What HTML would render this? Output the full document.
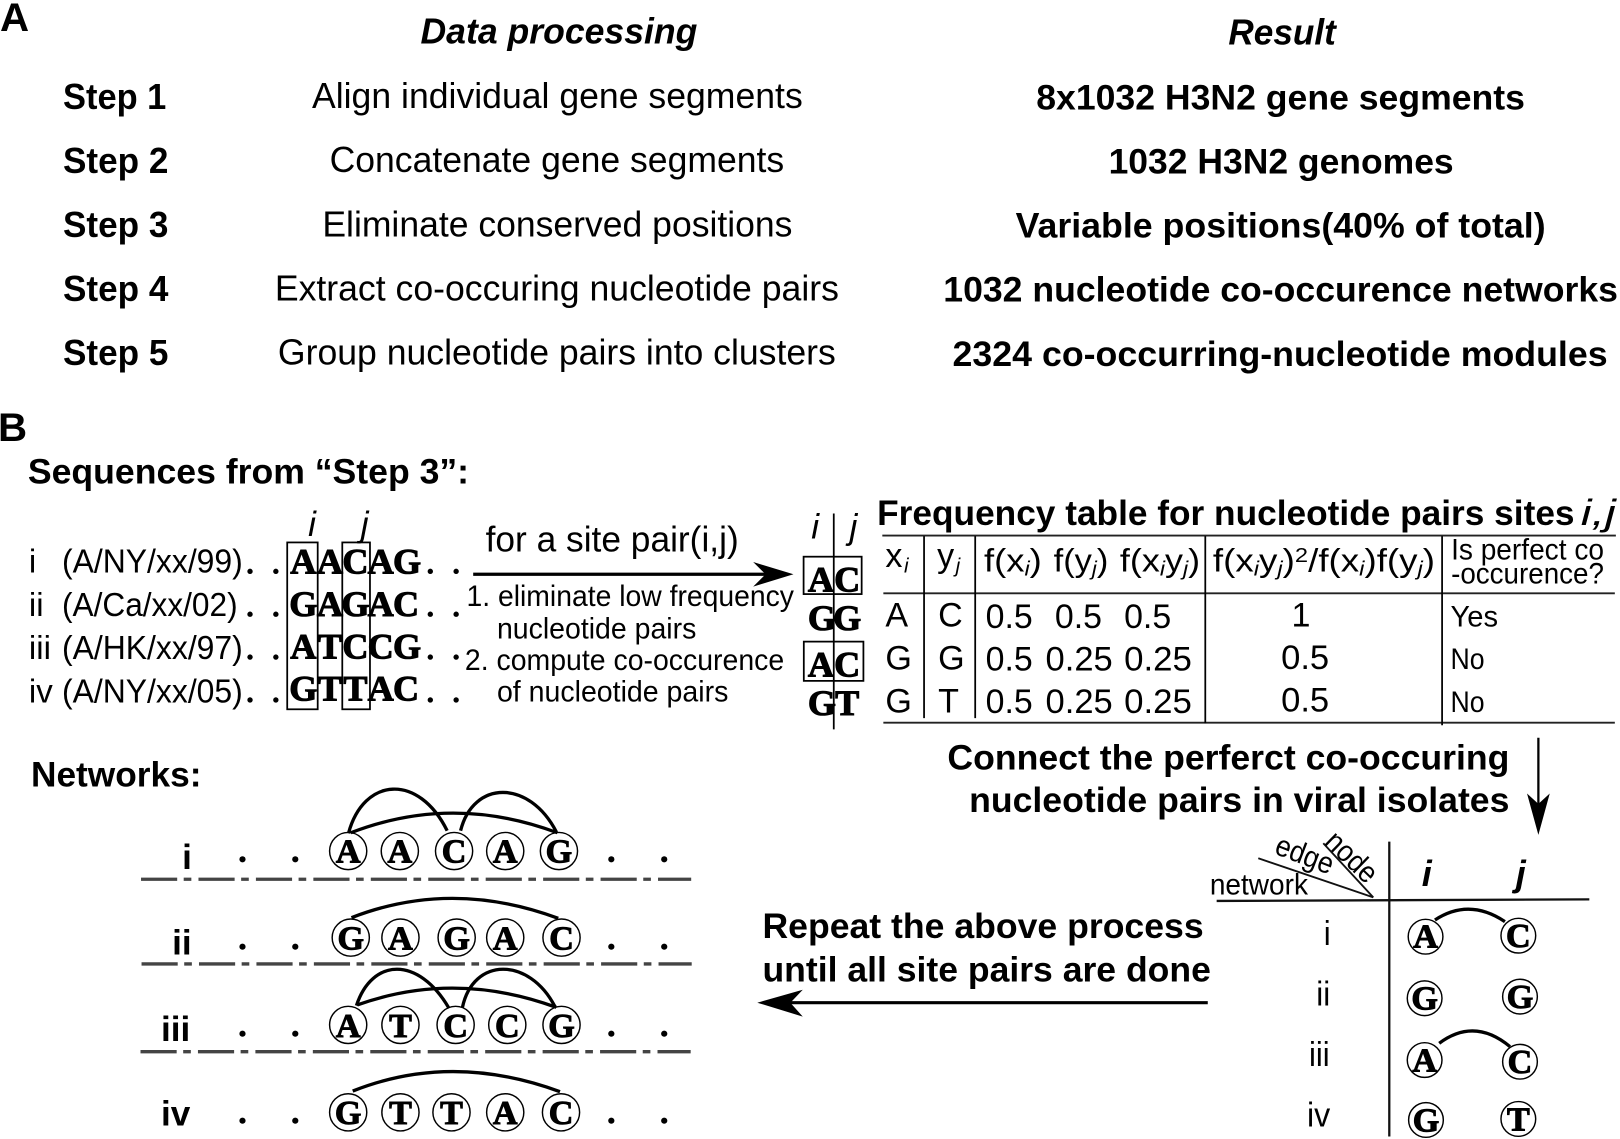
<!DOCTYPE html>
<html><head><meta charset="utf-8"><style>
html,body{margin:0;padding:0;background:#fff}
svg{display:block;filter:blur(.35px)}
text{fill:#000;font-family:"Liberation Sans",sans-serif}
.b{font-weight:bold;font-size:34px}
.st{font-weight:bold;font-size:35px}
.r{font-size:35px}
.bi{font-weight:bold;font-style:italic;font-size:35px}
.it{font-style:italic;font-size:34px;text-anchor:middle}
.t{font-size:29px}
.c{font-size:32px}
.v{font-size:33px}
.h{font-size:31px}
.s{font-style:italic;font-size:20px}
.m{font-family:"Liberation Serif",serif;font-weight:bold;font-size:33px;text-anchor:middle;stroke:#000;stroke-width:1px}
.q{font-family:"Liberation Serif",serif;font-weight:bold;font-size:35px;text-anchor:middle;stroke:#000;stroke-width:1px}
.a{fill:none;stroke:#000;stroke-width:3.2}
.n{fill:none;stroke:#000;stroke-width:1.4}
.l{stroke:#000;stroke-width:1.7;fill:none}
.d{stroke:#444;stroke-width:3.2;stroke-dasharray:35 6.3 7.4 6.9;fill:none}
</style></head><body>
<svg xmlns="http://www.w3.org/2000/svg" width="1620" height="1139" viewBox="0 0 1568 1102.4">
<rect width="1568" height="1103" fill="#fff"/>
<text class="b" style="font-size:39px" x="0" y="30">A</text>
<text class="b" style="font-size:39px" x="-2" y="427">B</text>
<text class="bi" x="407" y="42" textLength="268" lengthAdjust="spacingAndGlyphs">Data processing</text>
<text class="bi" x="1189" y="43" textLength="104" lengthAdjust="spacingAndGlyphs">Result</text>

<text class="st" x="61" y="105.5" textLength="100" lengthAdjust="spacingAndGlyphs">Step 1</text>
<text class="st" x="61" y="167.5" textLength="102" lengthAdjust="spacingAndGlyphs">Step 2</text>
<text class="st" x="61" y="229.5" textLength="102" lengthAdjust="spacingAndGlyphs">Step 3</text>
<text class="st" x="61" y="291.5" textLength="102" lengthAdjust="spacingAndGlyphs">Step 4</text>
<text class="st" x="61" y="353.5" textLength="102" lengthAdjust="spacingAndGlyphs">Step 5</text>

<text class="r" x="302" y="104.5" textLength="475" lengthAdjust="spacingAndGlyphs">Align individual gene segments</text>
<text class="r" x="319" y="166.5" textLength="440" lengthAdjust="spacingAndGlyphs">Concatenate gene segments</text>
<text class="r" x="312" y="228.7" textLength="455" lengthAdjust="spacingAndGlyphs">Eliminate conserved positions</text>
<text class="r" x="266" y="290.7" textLength="546" lengthAdjust="spacingAndGlyphs">Extract co-occuring nucleotide pairs</text>
<text class="r" x="269" y="352.7" textLength="540" lengthAdjust="spacingAndGlyphs">Group nucleotide pairs into clusters</text>

<text class="b" x="1003" y="106" textLength="473" lengthAdjust="spacingAndGlyphs">8x1032 H3N2 gene segments</text>
<text class="b" x="1073" y="168" textLength="334" lengthAdjust="spacingAndGlyphs">1032 H3N2 genomes</text>
<text class="b" x="983" y="230" textLength="513" lengthAdjust="spacingAndGlyphs">Variable positions(40% of total)</text>
<text class="b" x="913" y="292" textLength="653" lengthAdjust="spacingAndGlyphs">1032 nucleotide co-occurence networks</text>
<text class="b" x="922" y="354" textLength="634" lengthAdjust="spacingAndGlyphs">2324 co-occurring-nucleotide modules</text>

<text class="b" x="27" y="468" textLength="427" lengthAdjust="spacingAndGlyphs">Sequences from “Step 3”:</text>

<!-- sequences -->
<text class="c" x="28" y="554">i</text>
<text class="c" x="28" y="596">ii</text>
<text class="c" x="28" y="638">iii</text>
<text class="c" x="28" y="680">iv</text>
<text class="c" x="60" y="554" textLength="175" lengthAdjust="spacingAndGlyphs">(A/NY/xx/99)</text>
<text class="c" x="60" y="596" textLength="170" lengthAdjust="spacingAndGlyphs">(A/Ca/xx/02)</text>
<text class="c" x="60" y="638" textLength="175" lengthAdjust="spacingAndGlyphs">(A/HK/xx/97)</text>
<text class="c" x="60" y="680" textLength="175" lengthAdjust="spacingAndGlyphs">(A/NY/xx/05)</text>
<g fill="#000">
<circle cx="242" cy="553" r="2.6"/><circle cx="267" cy="553" r="2.6"/><circle cx="416.5" cy="553" r="2.6"/><circle cx="441.5" cy="553" r="2.6"/>
<circle cx="242" cy="594.5" r="2.6"/><circle cx="267" cy="594.5" r="2.6"/><circle cx="416.5" cy="594.5" r="2.6"/><circle cx="441.5" cy="594.5" r="2.6"/>
<circle cx="242" cy="636" r="2.6"/><circle cx="267" cy="636" r="2.6"/><circle cx="416.5" cy="636" r="2.6"/><circle cx="441.5" cy="636" r="2.6"/>
<circle cx="242" cy="677.5" r="2.6"/><circle cx="267" cy="677.5" r="2.6"/><circle cx="416.5" cy="677.5" r="2.6"/><circle cx="441.5" cy="677.5" r="2.6"/>
</g>
<g>
<text class="q" x="293.6" y="555">A</text><text class="q" x="319.4" y="555">A</text><text class="q" x="344" y="555">C</text><text class="q" x="368.5" y="555">A</text><text class="q" x="394" y="555">G</text>
<text class="q" x="293.6" y="596.2">G</text><text class="q" x="319.4" y="596.2">A</text><text class="q" x="344" y="596.2">G</text><text class="q" x="368.5" y="596.2">A</text><text class="q" x="393" y="596.2">C</text>
<text class="q" x="293.6" y="637.2">A</text><text class="q" x="319.4" y="637.2">T</text><text class="q" x="344" y="637.2">C</text><text class="q" x="368.5" y="637.2">C</text><text class="q" x="394" y="637.2">G</text>
<text class="q" x="293.6" y="678">G</text><text class="q" x="319.4" y="678">T</text><text class="q" x="344" y="678">T</text><text class="q" x="368.5" y="678">A</text><text class="q" x="393" y="678">C</text>
</g>
<rect class="l" x="278" y="525" width="29.5" height="161.5"/>
<rect class="l" x="331.3" y="525" width="26.8" height="161.5"/>
<text class="it" x="302" y="519">i</text>
<text class="it" x="353" y="519">j</text>

<text class="r" x="470" y="534" textLength="245" lengthAdjust="spacingAndGlyphs">for a site pair(i,j)</text>
<line x1="458" y1="555.8" x2="745" y2="555.8" stroke="#000" stroke-width="3.2"/>
<polygon points="768,555.8 729,544 741,555.8 729,567.8" fill="#000"/>
<text class="t" x="451.5" y="586.6" textLength="317" lengthAdjust="spacingAndGlyphs">1. eliminate low frequency</text>
<text class="t" x="481" y="617.8" textLength="193" lengthAdjust="spacingAndGlyphs">nucleotide pairs</text>
<text class="t" x="450" y="648.5" textLength="309" lengthAdjust="spacingAndGlyphs">2. compute co-occurence</text>
<text class="t" x="481" y="679" textLength="224" lengthAdjust="spacingAndGlyphs">of nucleotide pairs</text>

<!-- pair column -->
<text class="it" x="789" y="521">i</text>
<text class="it" x="826" y="521">j</text>
<text class="q" x="794.6" y="572.5">A</text><text class="q" x="820" y="572.5">C</text>
<text class="q" x="795.6" y="610">G</text><text class="q" x="820" y="610">G</text>
<text class="q" x="794.6" y="655">A</text><text class="q" x="820" y="655">C</text>
<text class="q" x="795.6" y="692">G</text><text class="q" x="820" y="692">T</text>
<rect class="l" x="777.8" y="538.8" width="56.2" height="36.2"/>
<rect class="l" x="778" y="621" width="57.7" height="38"/>
<line class="l" x1="807" y1="497" x2="807" y2="706"/>

<!-- frequency table -->
<text class="b" x="849" y="508" textLength="675" lengthAdjust="spacingAndGlyphs">Frequency table for nucleotide pairs sites</text>
<text style="font-style:italic;font-size:35px" x="1530" y="508" textLength="34" lengthAdjust="spacingAndGlyphs">i,j</text>
<line x1="854" y1="518.4" x2="1564" y2="518.4" stroke="#222" stroke-width="1.8"/>
<line x1="855" y1="574.3" x2="1563" y2="574.3" stroke="#222" stroke-width="1.8"/>
<line x1="855" y1="699.5" x2="1563" y2="699.5" stroke="#222" stroke-width="1.8"/>
<line class="l" x1="894.4" y1="519" x2="894.4" y2="695"/>
<line class="l" x1="943.9" y1="519" x2="943.9" y2="695"/>
<line class="l" x1="1166.6" y1="519" x2="1166.6" y2="700"/>
<line class="l" x1="1395.8" y1="519" x2="1395.8" y2="702"/>

<text class="v" x="857" y="549">x</text><text class="s" x="875" y="554">i</text>
<text class="v" x="907" y="549">y</text><text class="s" x="925" y="554">j</text>
<text class="h" x="952.4" y="553" textLength="56" lengthAdjust="spacingAndGlyphs">f(x<tspan class="s" dy="4">i</tspan><tspan dy="-4">)</tspan></text>
<text class="h" x="1019.8" y="553" textLength="53" lengthAdjust="spacingAndGlyphs">f(y<tspan class="s" dy="4">j</tspan><tspan dy="-4">)</tspan></text>
<text class="h" x="1084" y="553" textLength="77.6" lengthAdjust="spacingAndGlyphs">f(x<tspan class="s" dy="4">i</tspan><tspan dy="-4">y</tspan><tspan class="s" dy="4">j</tspan><tspan dy="-4">)</tspan></text>
<text class="h" x="1174" y="553" textLength="215" lengthAdjust="spacingAndGlyphs">f(x<tspan class="s" dy="4">i</tspan><tspan dy="-4">y</tspan><tspan class="s" dy="4">j</tspan><tspan dy="-4">)</tspan><tspan font-size="20" dy="-9">2</tspan><tspan dy="9">/f(x</tspan><tspan class="s" dy="4">i</tspan><tspan dy="-4">)f(y</tspan><tspan class="s" dy="4">j</tspan><tspan dy="-4">)</tspan></text>
<text class="t" x="1404.5" y="541.4" textLength="148" lengthAdjust="spacingAndGlyphs">Is perfect co</text>
<text class="t" x="1404.5" y="564.6" textLength="148" lengthAdjust="spacingAndGlyphs">-occurence?</text>

<text class="v" x="857" y="606.5">A</text><text class="v" x="908" y="606.5">C</text>
<text class="v" x="857" y="648">G</text><text class="v" x="908" y="648">G</text>
<text class="v" x="857" y="689.5">G</text><text class="v" x="908" y="689.5">T</text>
<text class="v" x="954" y="608" textLength="45.6" lengthAdjust="spacingAndGlyphs">0.5</text>
<text class="v" x="1021" y="608" textLength="45.6" lengthAdjust="spacingAndGlyphs">0.5</text>
<text class="v" x="1088" y="608" textLength="45.6" lengthAdjust="spacingAndGlyphs">0.5</text>
<text class="v" x="954" y="649" textLength="45.6" lengthAdjust="spacingAndGlyphs">0.5</text>
<text class="v" x="1012" y="649" textLength="65" lengthAdjust="spacingAndGlyphs">0.25</text>
<text class="v" x="1088" y="649" textLength="65.6" lengthAdjust="spacingAndGlyphs">0.25</text>
<text class="v" x="954" y="690" textLength="45.6" lengthAdjust="spacingAndGlyphs">0.5</text>
<text class="v" x="1012" y="690" textLength="65" lengthAdjust="spacingAndGlyphs">0.25</text>
<text class="v" x="1088" y="690" textLength="65.6" lengthAdjust="spacingAndGlyphs">0.25</text>
<text class="v" x="1250" y="606.5">1</text>
<text class="v" x="1240" y="647.5" textLength="46.5" lengthAdjust="spacingAndGlyphs">0.5</text>
<text class="v" x="1240" y="688.5" textLength="46.5" lengthAdjust="spacingAndGlyphs">0.5</text>
<text class="t" x="1404" y="606.5" textLength="46" lengthAdjust="spacingAndGlyphs">Yes</text>
<text class="t" x="1404" y="647.5" textLength="33" lengthAdjust="spacingAndGlyphs">No</text>
<text class="t" x="1404" y="689" textLength="33" lengthAdjust="spacingAndGlyphs">No</text>

<!-- connect -->
<text class="b" x="917" y="745" textLength="544" lengthAdjust="spacingAndGlyphs">Connect the perferct co-occuring</text>
<text class="b" x="938" y="786" textLength="523" lengthAdjust="spacingAndGlyphs">nucleotide pairs in viral isolates</text>
<line x1="1489" y1="714" x2="1489" y2="785" stroke="#000" stroke-width="2.2"/>
<polygon points="1489,808 1478,768 1489,778 1500,768" fill="#000"/>

<text class="b" x="738" y="908" textLength="427" lengthAdjust="spacingAndGlyphs">Repeat the above process</text>
<text class="b" x="738" y="950" textLength="434" lengthAdjust="spacingAndGlyphs">until all site pairs are done</text>
<line x1="1169" y1="970.5" x2="760" y2="970.5" stroke="#000" stroke-width="3"/>
<polygon points="733,970.5 777,958 765,970.5 777,984" fill="#000"/>

<text class="b" x="30" y="761" textLength="165" lengthAdjust="spacingAndGlyphs">Networks:</text>

<!-- networks -->
<line class="d" x1="136.5" y1="851" x2="669" y2="851"/>
<line class="d" x1="137" y1="933" x2="669.5" y2="933"/>
<line class="d" x1="136" y1="1017.9" x2="668.5" y2="1017.9"/>
<text class="b" x="181" y="841" text-anchor="middle">i</text>
<text class="b" x="176" y="923.7" text-anchor="middle">ii</text>
<text class="b" x="170" y="1007.6" text-anchor="middle">iii</text>
<text class="b" x="170" y="1089.5" text-anchor="middle">iv</text>
<g fill="#000">
<circle cx="234.7" cy="831.7" r="3"/><circle cx="285.8" cy="831.7" r="3"/><circle cx="591.7" cy="831.7" r="3"/><circle cx="642.9" cy="831.7" r="3"/>
<circle cx="234.7" cy="916.3" r="3"/><circle cx="285.8" cy="916.3" r="3"/><circle cx="591.7" cy="916.3" r="3"/><circle cx="642.9" cy="916.3" r="3"/>
<circle cx="234.7" cy="1000.5" r="3"/><circle cx="285.8" cy="1000.5" r="3"/><circle cx="591.7" cy="1000.5" r="3"/><circle cx="642.9" cy="1000.5" r="3"/>
<circle cx="234.7" cy="1084.7" r="3"/><circle cx="285.8" cy="1084.7" r="3"/><circle cx="591.7" cy="1084.7" r="3"/><circle cx="642.9" cy="1084.7" r="3"/>
</g>
<path class="a" d="M337.3,806.5 C352,752 405,748 432.8,804"/>
<path class="a" d="M445.8,804 C458,755 512,754 538.4,805"/>
<path class="a" d="M339.5,806 Q438,768 539.5,806"/>
<path class="a" d="M340.2,888.2 Q437,850.5 540.3,888.8"/>
<path class="a" d="M345,973.3 C360,927 405,925 434.6,975.9"/>
<path class="a" d="M447.6,975 C458,926 512,926 537,974"/>
<path class="a" d="M345.8,972.7 Q440,939 538.4,975"/>
<path class="a" d="M341.4,1056 Q437,1018 542,1056.6"/>
<g>
<circle class="n" cx="337" cy="823.7" r="18"/><circle class="n" cx="387" cy="823.7" r="18"/><circle class="n" cx="439.5" cy="823.7" r="18"/><circle class="n" cx="489" cy="823.7" r="18"/><circle class="n" cx="541" cy="823.7" r="18"/>
<text class="m" x="337" y="835">A</text><text class="m" x="387" y="835">A</text><text class="m" x="439.5" y="835">C</text><text class="m" x="489" y="835">A</text><text class="m" x="541" y="835">G</text>
<circle class="n" cx="339.5" cy="907.5" r="18"/><circle class="n" cx="387.6" cy="907.5" r="18"/><circle class="n" cx="442" cy="907.5" r="18"/><circle class="n" cx="489" cy="907.5" r="18"/><circle class="n" cx="543.5" cy="907.5" r="18"/>
<text class="m" x="339.5" y="919">G</text><text class="m" x="387.6" y="919">A</text><text class="m" x="442" y="919">G</text><text class="m" x="489" y="919">A</text><text class="m" x="543.5" y="919">C</text>
<circle class="n" cx="337" cy="992" r="18"/><circle class="n" cx="387.6" cy="992" r="18"/><circle class="n" cx="441" cy="992" r="18"/><circle class="n" cx="491" cy="992" r="18"/><circle class="n" cx="543.5" cy="992" r="18"/>
<text class="m" x="337" y="1003.5">A</text><text class="m" x="387.6" y="1003.5">T</text><text class="m" x="441" y="1003.5">C</text><text class="m" x="491" y="1003.5">C</text><text class="m" x="543.5" y="1003.5">G</text>
<circle class="n" cx="337" cy="1076.6" r="18"/><circle class="n" cx="387.6" cy="1076.6" r="18"/><circle class="n" cx="437" cy="1076.6" r="18"/><circle class="n" cx="489" cy="1076.6" r="18"/><circle class="n" cx="543" cy="1076.6" r="18"/>
<text class="m" x="337" y="1088">G</text><text class="m" x="387.6" y="1088">T</text><text class="m" x="437" y="1088">T</text><text class="m" x="489" y="1088">A</text><text class="m" x="543" y="1088">C</text>
</g>

<!-- right matrix -->
<line x1="1344.7" y1="814.6" x2="1344.7" y2="1100" stroke="#111" stroke-width="2.2"/>
<line x1="1177.6" y1="872" x2="1538.3" y2="870.5" stroke="#111" stroke-width="2.2"/>
<line x1="1217.9" y1="830.7" x2="1329.2" y2="868.5" stroke="#111" stroke-width="1.8"/>
<line x1="1280.8" y1="816.2" x2="1329.2" y2="868.5" stroke="#111" stroke-width="1.8"/>
<text class="t" x="1171" y="866" textLength="95" lengthAdjust="spacingAndGlyphs">network</text>
<text class="t" transform="translate(1232.4,825.9) rotate(21)" textLength="58" lengthAdjust="spacingAndGlyphs">edge</text>
<text class="t" transform="translate(1280.8,816.2) rotate(44)" textLength="58" lengthAdjust="spacingAndGlyphs">node</text>
<text class="bi" x="1381" y="857.5" text-anchor="middle">i</text>
<text class="bi" x="1472" y="857.5" text-anchor="middle">j</text>
<text style="font-size:33px" x="1281.3" y="914.6" textLength="6.7" lengthAdjust="spacingAndGlyphs">i</text>
<text style="font-size:33px" x="1274" y="973.4" textLength="13.5" lengthAdjust="spacingAndGlyphs">ii</text>
<text style="font-size:33px" x="1267" y="1031.8" textLength="20" lengthAdjust="spacingAndGlyphs">iii</text>
<text style="font-size:33px" x="1265" y="1090.5" textLength="22.5" lengthAdjust="spacingAndGlyphs">iv</text>
<path class="a" d="M1388.9,890.4 Q1422,868.8 1456.6,892"/>
<path class="a" d="M1393,1009.8 Q1427,984.4 1461.5,1013"/>
<circle class="n" cx="1379.8" cy="906.6" r="16.8"/><circle class="n" cx="1469.6" cy="905.6" r="16.8"/>
<circle class="n" cx="1378.9" cy="966.2" r="16.8"/><circle class="n" cx="1471.2" cy="964.6" r="16.8"/>
<circle class="n" cx="1378.9" cy="1026" r="16.8"/><circle class="n" cx="1471.2" cy="1027.6" r="16.8"/>
<circle class="n" cx="1380.2" cy="1084" r="16.8"/><circle class="n" cx="1469.6" cy="1083" r="16.8"/>
<text class="m" x="1379.8" y="917">A</text><text class="m" x="1469.6" y="916.5">C</text>
<text class="m" x="1378.9" y="977">G</text><text class="m" x="1471.2" y="975.5">G</text>
<text class="m" x="1378.9" y="1037">A</text><text class="m" x="1471.2" y="1038.5">C</text>
<text class="m" x="1380.2" y="1095">G</text><text class="m" x="1469.6" y="1094">T</text>
</svg>
</body></html>
